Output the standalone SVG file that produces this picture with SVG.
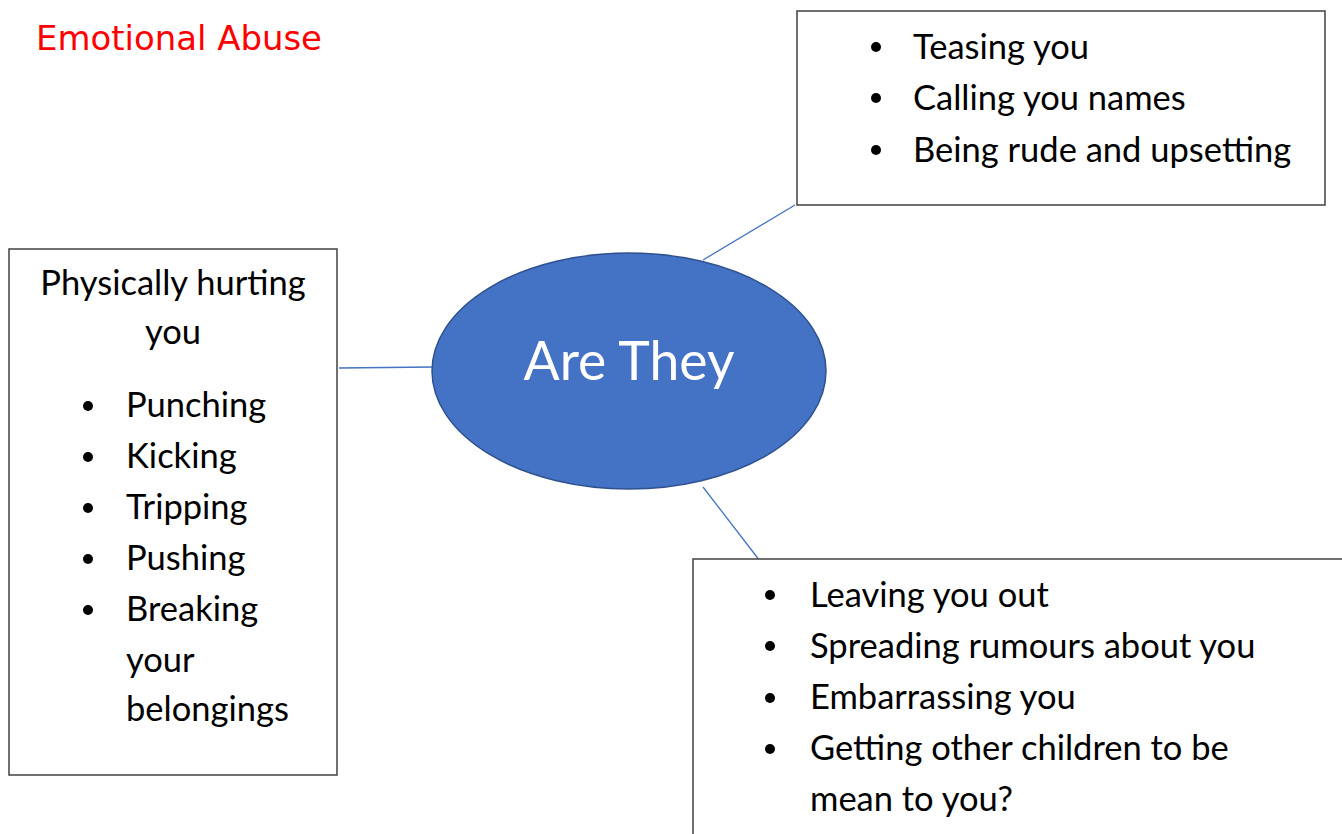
<svg xmlns="http://www.w3.org/2000/svg" width="1342" height="834" viewBox="0 0 1342 834">
<style>
.box{fill:#fff;stroke:#404040;stroke-width:1.5}
.t{font-family:Lato,"Open Sans",sans-serif;font-size:34.5px;fill:#000}
.b{fill:#000}
.c{stroke:#4472c4;stroke-width:1.3;fill:none}
</style>
<rect width="1342" height="834" fill="#fff"/>
<text x="36" y="50" font-family="'DejaVu Sans',sans-serif" font-size="34" fill="#ff0000" textLength="286" lengthAdjust="spacingAndGlyphs">Emotional Abuse</text>
<g id="connectors">
<line class="c" x1="703" y1="260" x2="795" y2="205"/>
<line class="c" x1="339" y1="368" x2="433" y2="367"/>
<line class="c" x1="703" y1="487" x2="760" y2="561"/>
</g>
<g id="center">
<ellipse cx="629" cy="371" rx="197" ry="118" fill="#4472c4" stroke="#2f528f" stroke-width="1.5"/>
<text x="629" y="380" text-anchor="middle" font-family="Lato,'Open Sans',sans-serif" font-size="53.5" fill="#fff">Are They</text>
</g>
<g id="verbal">
<rect class="box" x="797" y="11" width="528" height="194"/>
<circle class="b" cx="876" cy="47" r="5"/>
<circle class="b" cx="876" cy="98" r="5"/>
<circle class="b" cx="876" cy="150" r="5"/>
<text class="t" x="913" y="59">Teasing you</text>
<text class="t" x="913" y="110">Calling you names</text>
<text class="t" x="913" y="162">Being rude and upsetting</text>
</g>
<g id="physical">
<rect class="box" x="9" y="249" width="328" height="526"/>
<text class="t" x="173" y="295" text-anchor="middle">Physically hurting</text>
<text class="t" x="173" y="344" text-anchor="middle">you</text>
<circle class="b" cx="88" cy="406" r="5"/>
<circle class="b" cx="88" cy="457" r="5"/>
<circle class="b" cx="88" cy="508" r="5"/>
<circle class="b" cx="88" cy="559" r="5"/>
<circle class="b" cx="88" cy="610" r="5"/>
<text class="t" x="126" y="417">Punching</text>
<text class="t" x="126" y="468">Kicking</text>
<text class="t" x="126" y="519">Tripping</text>
<text class="t" x="126" y="570">Pushing</text>
<text class="t" x="126" y="621">Breaking</text>
<text class="t" x="126" y="672">your</text>
<text class="t" x="126" y="721">belongings</text>
</g>
<g id="social">
<rect class="box" x="693" y="559" width="660" height="290"/>
<circle class="b" cx="770" cy="595" r="5"/>
<circle class="b" cx="770" cy="646" r="5"/>
<circle class="b" cx="770" cy="698" r="5"/>
<circle class="b" cx="770" cy="749" r="5"/>
<text class="t" x="810" y="607">Leaving you out</text>
<text class="t" x="810" y="658">Spreading rumours about you</text>
<text class="t" x="810" y="709">Embarrassing you</text>
<text class="t" x="810" y="760">Getting other children to be</text>
<text class="t" x="810" y="811">mean to you?</text>
</g>
</svg>
